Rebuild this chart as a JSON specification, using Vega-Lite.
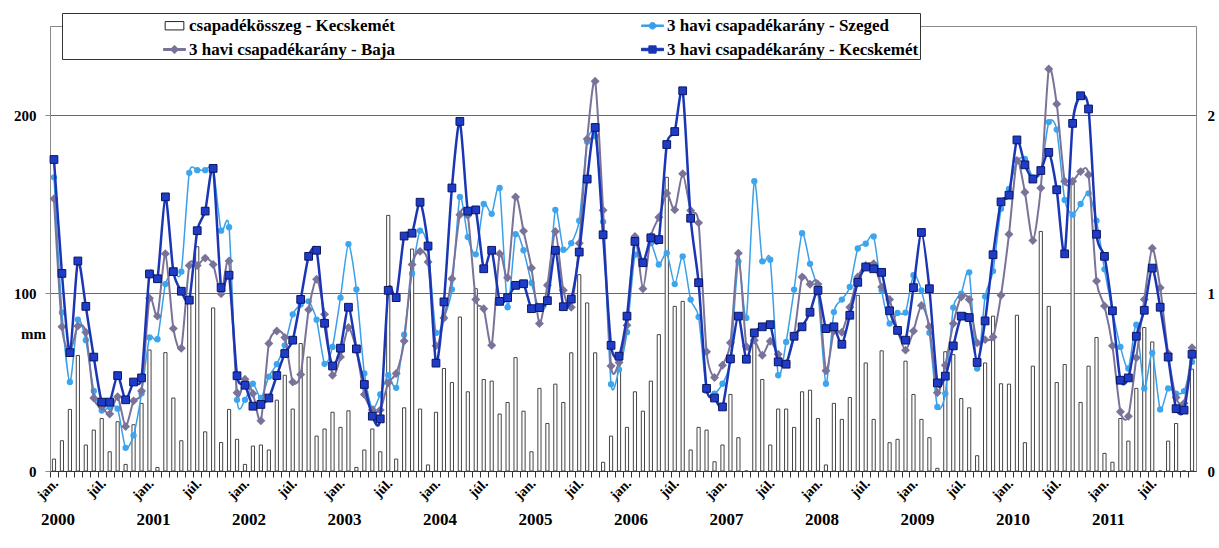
{
  "$schema": "https://vega.github.io/schema/vega-lite/v6.json",
  "width": 1146,
  "height": 445,
  "autosize": {"type": "none"},
  "padding": {"left": 50, "top": 26, "right": 23, "bottom": 77},
  "background": "white",
  "config": {
    "view": {"stroke": "#8a8a8a", "strokeWidth": 1},
    "font": "Liberation Serif"
  },
  "data": {"values": [
    {"d":"2000-01","p":6.7,"sz":1.65,"ba":1.53,"ke":1.75},
    {"d":"2000-02","p":17,"sz":0.89,"ba":0.81,"ke":1.11},
    {"d":"2000-03","p":34.6,"sz":0.50,"ba":0.67,"ke":0.665},
    {"d":"2000-04","p":64.9,"sz":0.85,"ba":0.815,"ke":1.18},
    {"d":"2000-05","p":14.6,"sz":0.735,"ba":0.78,"ke":0.925},
    {"d":"2000-06","p":23,"sz":0.45,"ba":0.41,"ke":0.64},
    {"d":"2000-07","p":29.5,"sz":0.34,"ba":0.36,"ke":0.387},
    {"d":"2000-08","p":10.8,"sz":0.36,"ba":0.32,"ke":0.387},
    {"d":"2000-09","p":27.7,"sz":0.35,"ba":0.417,"ke":0.536},
    {"d":"2000-10","p":3.7,"sz":0.13,"ba":0.25,"ke":0.40},
    {"d":"2000-11","p":26,"sz":0.20,"ba":0.394,"ke":0.50},
    {"d":"2000-12","p":38,"sz":0.435,"ba":0.45,"ke":0.523},
    {"d":"2001-01","p":68,"sz":0.75,"ba":0.97,"ke":1.107},
    {"d":"2001-02","p":2,"sz":0.74,"ba":0.87,"ke":1.08},
    {"d":"2001-03","p":66.5,"sz":1.05,"ba":1.22,"ke":1.54},
    {"d":"2001-04","p":41,"sz":1.116,"ba":0.80,"ke":1.12},
    {"d":"2001-05","p":17,"sz":1.12,"ba":0.69,"ke":1.01},
    {"d":"2001-06","p":96,"sz":1.675,"ba":1.155,"ke":0.96},
    {"d":"2001-07","p":126,"sz":1.69,"ba":1.155,"ke":1.35},
    {"d":"2001-08","p":22,"sz":1.69,"ba":1.196,"ke":1.46},
    {"d":"2001-09","p":91.6,"sz":1.70,"ba":1.16,"ke":1.70},
    {"d":"2001-10","p":16,"sz":1.35,"ba":0.996,"ke":1.03},
    {"d":"2001-11","p":34.6,"sz":1.37,"ba":1.18,"ke":1.10},
    {"d":"2001-12","p":17.8,"sz":0.40,"ba":0.44,"ke":0.535},
    {"d":"2002-01","p":3.7,"sz":0.40,"ba":0.516,"ke":0.482},
    {"d":"2002-02","p":14,"sz":0.49,"ba":0.435,"ke":0.364},
    {"d":"2002-03","p":14.6,"sz":0.41,"ba":0.282,"ke":0.374},
    {"d":"2002-04","p":11.8,"sz":0.53,"ba":0.716,"ke":0.41},
    {"d":"2002-05","p":39.8,"sz":0.60,"ba":0.787,"ke":0.536},
    {"d":"2002-06","p":53.8,"sz":0.706,"ba":0.75,"ke":0.66},
    {"d":"2002-07","p":34.8,"sz":0.88,"ba":0.50,"ke":0.735},
    {"d":"2002-08","p":71.6,"sz":0.935,"ba":0.542,"ke":0.964},
    {"d":"2002-09","p":64,"sz":0.953,"ba":0.906,"ke":1.206},
    {"d":"2002-10","p":19.6,"sz":0.85,"ba":1.077,"ke":1.24},
    {"d":"2002-11","p":23.6,"sz":0.602,"ba":0.88,"ke":0.83},
    {"d":"2002-12","p":33,"sz":0.697,"ba":0.538,"ke":0.59},
    {"d":"2003-01","p":24.5,"sz":0.974,"ba":0.64,"ke":0.69},
    {"d":"2003-02","p":33.8,"sz":1.275,"ba":0.806,"ke":0.92},
    {"d":"2003-03","p":2,"sz":1.02,"ba":0.68,"ke":0.686},
    {"d":"2003-04","p":11.8,"sz":0.548,"ba":0.43,"ke":0.486},
    {"d":"2003-05","p":23.6,"sz":0.35,"ba":0.342,"ke":0.308},
    {"d":"2003-06","p":10.8,"sz":0.43,"ba":0.342,"ke":0.293},
    {"d":"2003-07","p":143.6,"sz":0.538,"ba":0.495,"ke":1.015},
    {"d":"2003-08","p":6.7,"sz":0.467,"ba":0.548,"ke":0.974},
    {"d":"2003-09","p":35.5,"sz":0.766,"ba":0.73,"ke":1.32},
    {"d":"2003-10","p":124.7,"sz":1.11,"ba":1.16,"ke":1.336},
    {"d":"2003-11","p":34.8,"sz":1.35,"ba":1.234,"ke":1.51},
    {"d":"2003-12","p":3.4,"sz":1.25,"ba":1.174,"ke":1.264},
    {"d":"2004-01","p":33,"sz":0.776,"ba":0.703,"ke":0.606},
    {"d":"2004-02","p":57.6,"sz":0.86,"ba":0.86,"ke":0.95},
    {"d":"2004-03","p":49.7,"sz":1.02,"ba":1.08,"ke":1.59},
    {"d":"2004-04","p":86.5,"sz":1.54,"ba":1.44,"ke":1.964},
    {"d":"2004-05","p":44.5,"sz":1.314,"ba":1.436,"ke":1.46},
    {"d":"2004-06","p":102.4,"sz":1.217,"ba":0.964,"ke":1.467},
    {"d":"2004-07","p":51.4,"sz":1.50,"ba":0.912,"ke":1.136},
    {"d":"2004-08","p":50.5,"sz":1.445,"ba":0.706,"ke":1.24},
    {"d":"2004-09","p":32,"sz":1.59,"ba":1.22,"ke":0.953},
    {"d":"2004-10","p":38.5,"sz":0.92,"ba":1.086,"ke":0.974},
    {"d":"2004-11","p":63.7,"sz":1.33,"ba":1.54,"ke":1.043},
    {"d":"2004-12","p":33.6,"sz":1.24,"ba":1.348,"ke":1.052},
    {"d":"2005-01","p":10.8,"sz":1.056,"ba":1.14,"ke":0.912},
    {"d":"2005-02","p":46.4,"sz":0.91,"ba":0.828,"ke":0.918},
    {"d":"2005-03","p":26.7,"sz":0.96,"ba":1.043,"ke":0.957},
    {"d":"2005-04","p":48.8,"sz":1.467,"ba":1.346,"ke":1.24},
    {"d":"2005-05","p":38.5,"sz":1.243,"ba":1.015,"ke":0.923},
    {"d":"2005-06","p":66.4,"sz":1.28,"ba":0.92,"ke":0.966},
    {"d":"2005-07","p":110.3,"sz":1.406,"ba":1.28,"ke":1.23},
    {"d":"2005-08","p":94.4,"sz":1.85,"ba":1.865,"ke":1.64},
    {"d":"2005-09","p":66.4,"sz":1.88,"ba":2.19,"ke":1.93},
    {"d":"2005-10","p":4.9,"sz":1.40,"ba":1.465,"ke":1.327},
    {"d":"2005-11","p":19.6,"sz":0.488,"ba":0.59,"ke":0.706},
    {"d":"2005-12","p":57,"sz":0.57,"ba":0.61,"ke":0.645},
    {"d":"2006-01","p":24.5,"sz":0.78,"ba":0.819,"ke":0.87},
    {"d":"2006-02","p":44.5,"sz":1.215,"ba":1.318,"ke":1.29},
    {"d":"2006-03","p":33.6,"sz":1.18,"ba":1.024,"ke":1.17},
    {"d":"2006-04","p":50.5,"sz":1.28,"ba":1.318,"ke":1.31},
    {"d":"2006-05","p":76.6,"sz":1.16,"ba":1.426,"ke":1.30},
    {"d":"2006-06","p":165,"sz":1.224,"ba":1.56,"ke":1.834},
    {"d":"2006-07","p":92.5,"sz":1.05,"ba":1.467,"ke":1.907},
    {"d":"2006-08","p":95.3,"sz":1.206,"ba":1.67,"ke":2.136},
    {"d":"2006-09","p":11.8,"sz":0.963,"ba":1.464,"ke":1.42},
    {"d":"2006-10","p":24.5,"sz":0.865,"ba":1.394,"ke":1.058},
    {"d":"2006-11","p":23,"sz":0.45,"ba":0.67,"ke":0.464},
    {"d":"2006-12","p":5.2,"sz":0.435,"ba":0.525,"ke":0.41},
    {"d":"2007-01","p":14.6,"sz":0.49,"ba":0.594,"ke":0.36},
    {"d":"2007-02","p":43,"sz":0.62,"ba":0.72,"ke":0.63},
    {"d":"2007-03","p":18.7,"sz":1.178,"ba":1.224,"ke":0.87},
    {"d":"2007-04","p":0,"sz":0.86,"ba":0.70,"ke":0.628},
    {"d":"2007-05","p":75.3,"sz":1.628,"ba":0.735,"ke":0.776},
    {"d":"2007-06","p":51.4,"sz":1.178,"ba":0.65,"ke":0.81},
    {"d":"2007-07","p":14.6,"sz":1.187,"ba":0.729,"ke":0.822},
    {"d":"2007-08","p":34.8,"sz":0.538,"ba":0.656,"ke":0.613},
    {"d":"2007-09","p":34.8,"sz":0.725,"ba":0.604,"ke":0.60},
    {"d":"2007-10","p":24.5,"sz":1.019,"ba":0.76,"ke":0.757},
    {"d":"2007-11","p":44.5,"sz":1.336,"ba":1.09,"ke":0.81},
    {"d":"2007-12","p":45.4,"sz":1.164,"ba":1.049,"ke":0.892},
    {"d":"2008-01","p":29.5,"sz":1.00,"ba":1.049,"ke":1.015},
    {"d":"2008-02","p":3.4,"sz":0.49,"ba":0.563,"ke":0.80},
    {"d":"2008-03","p":38,"sz":0.893,"ba":0.787,"ke":0.81},
    {"d":"2008-04","p":29,"sz":0.963,"ba":0.78,"ke":0.712},
    {"d":"2008-05","p":41.3,"sz":1.034,"ba":0.92,"ke":0.875},
    {"d":"2008-06","p":98.7,"sz":1.25,"ba":1.09,"ke":1.06},
    {"d":"2008-07","p":60.7,"sz":1.277,"ba":1.155,"ke":1.146},
    {"d":"2008-08","p":29,"sz":1.318,"ba":1.164,"ke":1.136},
    {"d":"2008-09","p":67.5,"sz":1.015,"ba":1.034,"ke":1.116},
    {"d":"2008-10","p":15.9,"sz":0.828,"ba":0.963,"ke":0.90},
    {"d":"2008-11","p":17.8,"sz":0.888,"ba":0.79,"ke":0.79},
    {"d":"2008-12","p":61.7,"sz":0.89,"ba":0.679,"ke":0.735},
    {"d":"2009-01","p":43,"sz":1.10,"ba":0.787,"ke":1.03},
    {"d":"2009-02","p":29,"sz":1.015,"ba":0.93,"ke":1.34},
    {"d":"2009-03","p":18.7,"sz":0.776,"ba":0.81,"ke":1.024},
    {"d":"2009-04","p":1.5,"sz":0.36,"ba":0.44,"ke":0.495},
    {"d":"2009-05","p":67,"sz":0.435,"ba":0.594,"ke":0.533},
    {"d":"2009-06","p":65.4,"sz":0.918,"ba":0.828,"ke":0.703},
    {"d":"2009-07","p":40.7,"sz":0.996,"ba":0.978,"ke":0.87},
    {"d":"2009-08","p":35.5,"sz":1.116,"ba":0.963,"ke":0.862},
    {"d":"2009-09","p":8.6,"sz":0.576,"ba":0.72,"ke":0.61},
    {"d":"2009-10","p":60.7,"sz":0.98,"ba":0.738,"ke":0.843},
    {"d":"2009-11","p":87,"sz":1.123,"ba":0.753,"ke":1.215},
    {"d":"2009-12","p":49,"sz":1.473,"ba":0.987,"ke":1.512},
    {"d":"2010-01","p":48.8,"sz":1.585,"ba":1.33,"ke":1.55},
    {"d":"2010-02","p":87.5,"sz":1.744,"ba":1.744,"ke":1.86},
    {"d":"2010-03","p":15.9,"sz":1.753,"ba":1.566,"ke":1.72},
    {"d":"2010-04","p":58.9,"sz":1.65,"ba":1.295,"ke":1.64},
    {"d":"2010-05","p":134.6,"sz":1.68,"ba":1.59,"ke":1.688},
    {"d":"2010-06","p":92.5,"sz":1.96,"ba":2.258,"ke":1.79},
    {"d":"2010-07","p":49.7,"sz":1.918,"ba":2.062,"ke":1.58},
    {"d":"2010-08","p":59.8,"sz":1.523,"ba":1.628,"ke":1.22},
    {"d":"2010-09","p":164,"sz":1.44,"ba":1.628,"ke":1.953},
    {"d":"2010-10","p":38.5,"sz":1.50,"ba":1.682,"ke":2.108},
    {"d":"2010-11","p":58.9,"sz":1.56,"ba":1.664,"ke":2.034},
    {"d":"2010-12","p":75,"sz":1.407,"ba":1.067,"ke":1.33},
    {"d":"2011-01","p":9.9,"sz":1.133,"ba":0.927,"ke":1.206},
    {"d":"2011-02","p":4.9,"sz":0.90,"ba":0.703,"ke":0.90},
    {"d":"2011-03","p":29.5,"sz":0.697,"ba":0.333,"ke":0.51},
    {"d":"2011-04","p":16.8,"sz":0.576,"ba":0.308,"ke":0.523},
    {"d":"2011-05","p":46.4,"sz":0.822,"ba":0.636,"ke":0.757},
    {"d":"2011-06","p":80.6,"sz":0.464,"ba":0.963,"ke":0.903},
    {"d":"2011-07","p":72.5,"sz":0.664,"ba":1.252,"ke":1.14},
    {"d":"2011-08","p":0,"sz":0.346,"ba":1.03,"ke":0.92},
    {"d":"2011-09","p":16.8,"sz":0.464,"ba":0.66,"ke":0.64},
    {"d":"2011-10","p":26.7,"sz":0.435,"ba":0.413,"ke":0.35},
    {"d":"2011-11","p":0,"sz":0.449,"ba":0.38,"ke":0.342},
    {"d":"2011-12","p":57.2,"sz":0.613,"ba":0.693,"ke":0.656}
  ]},
  "layer": [
    {
      "mark": {"type": "bar", "fill": "white", "stroke": "#444444", "strokeWidth": 1},
      "encoding": {
        "x": {
          "field": "d", "type": "ordinal", "sort": null,
          "scale": {"paddingInner": 0.6, "paddingOuter": 0.3},
          "axis": {
            "title": null, "orient": "bottom", "bandPosition": 0, "tickOffset": -2.39, "labelOffset": 3.98,
            "labelExpr": "substring(datum.value,5,7)=='01' ? 'jan.' : (substring(datum.value,5,7)=='07' ? 'júl.' : '')",
            "labelAngle": -45, "labelAlign": "right", "labelBaseline": "middle", "labelPadding": 4,
            "labelFont": "Liberation Serif", "labelFontWeight": "bold", "labelFontSize": 14, "labelColor": "#000000",
            "labelOverlap": false, "tickColor": "#333333", "tickSize": 6, "domainColor": "#333333", "grid": false
          }
        },
        "y": {
          "field": "p", "type": "quantitative",
          "scale": {"domain": [0, 250], "nice": false},
          "axis": {
            "values": [0, 100, 200], "grid": true, "gridColor": "#6a6a6a", "gridWidth": 1,
            "title": "mm", "titleAngle": 0, "titleX": -17, "titleY": 307, "titleAlign": "center", "titleBaseline": "middle",
            "titleFont": "Liberation Serif", "titleFontWeight": "bold", "titleFontSize": 15, "titleColor": "#000000",
            "labelFont": "Liberation Serif", "labelFontWeight": "bold", "labelFontSize": 15, "labelColor": "#000000",
            "labelPadding": 9, "tickSize": 5, "tickColor": "#8a8a8a", "domainColor": "#8a8a8a"
          }
        }
      }
    },
    {
      "encoding": {
        "x": {
          "field": "d", "type": "ordinal", "sort": null,
          "axis": {
            "title": null, "orient": "bottom", "domain": false, "ticks": false, "tickSize": 0, "labelOffset": 4,
            "labelExpr": "substring(datum.value,5,7)=='01' ? substring(datum.value,0,4) : ''",
            "labelAngle": 0, "labelAlign": "center", "labelBaseline": "middle", "labelPadding": 48,
            "labelFont": "Liberation Serif", "labelFontWeight": "bold", "labelFontSize": 17, "labelColor": "#000000",
            "labelOverlap": false, "grid": false
          }
        }
      },
      "layer": [
        {
          "mark": {"type": "line", "strokeWidth": 1.5, "interpolate": "cardinal", "tension": 0.3},
          "encoding": {
            "y": {
              "field": "sz", "type": "quantitative", "title": null,
              "scale": {"domain": [0, 2.5], "nice": false},
              "axis": {
                "orient": "right", "values": [0, 1, 2], "format": "d", "grid": false, "domain": false, "ticks": false, "tickSize": 0,
                "labelPadding": 11, "labelFont": "Liberation Serif", "labelFontWeight": "bold", "labelFontSize": 15, "labelColor": "#000000", "title": null
              }
            },
            "color": {
              "datum": "3 havi csapadékarány - Szeged",
              "scale": {
                "domain": ["csapadékösszeg - Kecskemét", "3 havi csapadékarány - Baja", "3 havi csapadékarány - Szeged", "3 havi csapadékarány - Kecskemét"],
                "range": ["#222222", "#7A7399", "#3A9FE8", "#1B36B5"]
              },
              "legend": {
                "orient": "none", "legendX": 12, "legendY": -13, "columns": 2, "title": null,
                "symbolSize": 484, "symbolOffset": 100, "labelOffset": 3, "columnPadding": 146, "rowPadding": 4, "padding": 1,
                "strokeColor": "#333333", "fillColor": "white",
                "labelFont": "Liberation Serif", "labelFontWeight": "bold", "labelFontSize": 17, "labelColor": "#000000", "labelLimit": 0,
                "labelExpr": "datum.value == '3 havi csapadékarány - Kecskemét' ? datum.label + '\u00a0\u00a0\u00a0\u00a0\u00a0\u00a0\u00a0\u00a0\u00a0\u00a0\u00a0\u00a0\u00a0\u00a0\u00a0\u00a0\u00a0\u00a0\u00a0\u00a0\u00a0' : datum.label",
                "encode": {
                  "symbols": {
                    "update": {
                      "shape": {"signal": "datum.value == 'csapadékösszeg - Kecskemét' ? 'M-0.85,-0.38H0.85V0.38H-0.85Z' : (datum.value == '3 havi csapadékarány - Szeged' ? 'M-1,-0.07H1V0.07H-1Z M-0.3,0A0.3,0.3 0 1,1 0.3,0A0.3,0.3 0 1,1 -0.3,0Z' : (datum.value == '3 havi csapadékarány - Baja' ? 'M-1,-0.09H1V0.09H-1Z M0,-0.38L0.38,0L0,0.38L-0.38,0Z' : 'M-1,-0.11H1V0.11H-1Z M-0.33,-0.33H0.33V0.33H-0.33Z'))"},
                      "fill": {"signal": "datum.value == 'csapadékösszeg - Kecskemét' ? '#ffffff' : scale('color', datum.value)"},
                      "stroke": {"signal": "datum.value == 'csapadékösszeg - Kecskemét' ? '#222222' : 'transparent'"},
                      "strokeWidth": {"value": 1},
                      "opacity": {"value": 1}
                    }
                  }
                }
              }
            }
          }
        },
        {
          "mark": {"type": "point", "shape": "circle", "filled": true, "fill": "#3DA5EE", "size": 40, "opacity": 1, "strokeWidth": 0},
          "encoding": {"y": {"field": "sz", "type": "quantitative", "title": null}}
        },
        {
          "mark": {"type": "line", "strokeWidth": 2, "interpolate": "cardinal", "tension": 0.3},
          "encoding": {
            "y": {"field": "ba", "type": "quantitative", "title": null},
            "color": {"datum": "3 havi csapadékarány - Baja"}
          }
        },
        {
          "mark": {"type": "point", "shape": "diamond", "filled": true, "fill": "#7A7399", "size": 80, "opacity": 1, "strokeWidth": 0},
          "encoding": {"y": {"field": "ba", "type": "quantitative", "title": null}}
        },
        {
          "mark": {"type": "line", "strokeWidth": 2.5, "interpolate": "cardinal", "tension": 0.3},
          "encoding": {
            "y": {"field": "ke", "type": "quantitative", "title": null},
            "color": {"datum": "3 havi csapadékarány - Kecskemét"}
          }
        },
        {
          "mark": {"type": "point", "shape": "square", "filled": true, "fill": "#1E3CC8", "stroke": "#0B1660", "strokeWidth": 1, "size": 60, "opacity": 1},
          "encoding": {"y": {"field": "ke", "type": "quantitative", "title": null}}
        }
      ]
    }
  ],
  "resolve": {"scale": {"y": "independent"}, "axis": {"x": "independent"}}
}
